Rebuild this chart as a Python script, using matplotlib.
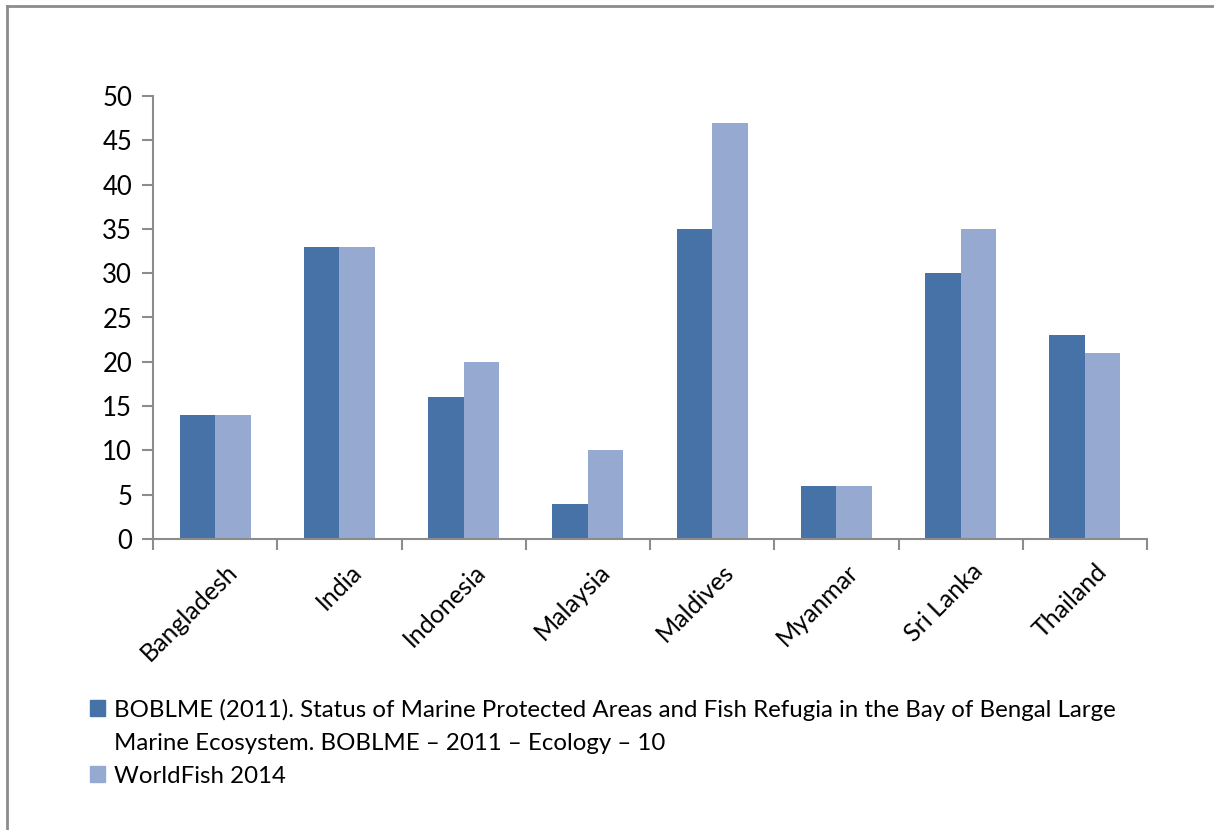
import matplotlib
matplotlib.use("Agg")
import matplotlib.pyplot as plt
from matplotlib.patches import Patch
from matplotlib.lines import Line2D
import matplotlib.transforms as mtransforms
import numpy as np

categories = ["Bangladesh", "India", "Indonesia", "Malaysia", "Maldives", "Myanmar", "Sri Lanka", "Thailand"]
boblme = [14, 33, 16, 4, 35, 6, 30, 23]
worldfish = [14, 33, 20, 10, 47, 6, 35, 21]
series_labels = ["BOBLME (2011). Status of Marine Protected Areas and Fish Refugia in the Bay of Bengal Large",
                 "Marine Ecosystem. BOBLME \u2013 2011 \u2013 Ecology \u2013 10",
                 "WorldFish 2014"]
yticks = [0, 5, 10, 15, 20, 25, 30, 35, 40, 45, 50]

plt.rcParams['font.family'] = ['Lato', 'DejaVu Sans']

c1 = "#4672A8"
c2 = "#95A9D1"
gray = "#8C8C8C"

fig = plt.figure(figsize=(12.14, 8.30), dpi=100)
W, H = 1214, 830
ax = fig.add_axes([153 / W, 1 - 539 / H, (1147 - 153) / W, (539 - 96) / H])

x = np.arange(len(categories))
bw = 0.285
ax.bar(x - bw / 2, boblme, width=bw, color=c1, zorder=2)
ax.bar(x + bw / 2, worldfish, width=bw, color=c2, zorder=2)

ax.set_xlim(-0.5, len(categories) - 0.5)
ax.set_ylim(0, 50)
ax.set_yticks(yticks)
ax.set_yticklabels([str(v) for v in yticks], fontsize=18.5)
ax.set_xticks(np.arange(len(categories) + 1) - 0.5)
ax.set_xticklabels([])
ax.set_xticks(x, minor=True)
ax.set_xticklabels(categories, minor=True, rotation=45, ha='right', va='top',
                   rotation_mode='anchor', fontsize=18)
ax.tick_params(axis='x', which='minor', length=0, pad=15)
ax.tick_params(axis='x', which='major', length=8, width=1.5, color=gray, direction='out')
ax.tick_params(axis='y', length=8, width=1.5, color=gray, direction='out', pad=7)
offset = mtransforms.ScaledTranslation(10 / 100, 0, fig.dpi_scale_trans)
for lab in ax.get_xticklabels(minor=True):
    lab.set_transform(lab.get_transform() + offset)
for side in ['top', 'right']:
    ax.spines[side].set_visible(False)
for side in ['left', 'bottom']:
    ax.spines[side].set_color(gray)
    ax.spines[side].set_linewidth(1.5)

# figure border (top and left visible)
fig.add_artist(Line2D([7 / W, 7 / W], [0, 1 - 6 / H], color=gray, lw=2, transform=fig.transFigure))
fig.add_artist(Line2D([7 / W, 1], [1 - 6 / H, 1 - 6 / H], color=gray, lw=2, transform=fig.transFigure))

handles = [Patch(color=c1), Patch(color='none'), Patch(color=c2)]
leg = fig.legend(handles, series_labels, loc='upper left', bbox_to_anchor=(80 / W, 1 - 689 / H),
                 frameon=False, fontsize=17.3, handlelength=0.66, handleheight=0.66,
                 handletextpad=0.35, labelspacing=0.5, borderaxespad=0)

fig.savefig("out.png", dpi=100)
